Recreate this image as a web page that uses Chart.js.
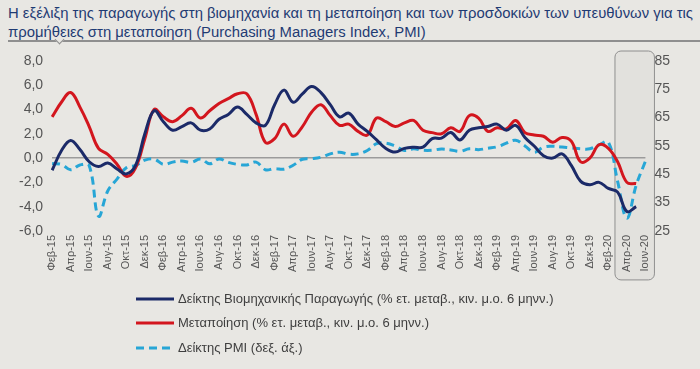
<!DOCTYPE html>
<html>
<head>
<meta charset="utf-8">
<script src="https://cdn.jsdelivr.net/npm/chart.js@4.4.0/dist/chart.umd.min.js"></script>
<style>
  html, body { margin: 0; padding: 0; background: #e8e7e3; }
  #wrap { position: relative; width: 700px; height: 369px; overflow: hidden; }
  #title { position: absolute; left: 8px; top: 4px; font: 14px "Liberation Sans", Arial, sans-serif;
           color: #1f3b73; line-height: 19px; white-space: nowrap; transform-origin: 0 0; }
  #rule { position: absolute; left: 8px; right: 0; top: 40px; height: 2px; background: #8f8f8f; }
  #notch { position: absolute; left: 56px; top: 36px; width: 6px; height: 6px; background: #e8e7e3;
           border-right: 1.5px solid #8f8f8f; border-bottom: 1.5px solid #8f8f8f; transform: rotate(45deg); }
  canvas { position: absolute; left: 0; top: 0; }
</style>
</head>
<body>
<div id="wrap">
  <div id="title">Η εξέλιξη της παραγωγής στη βιομηχανία και τη μεταποίηση και των προσδοκιών των υπευθύνων για τις<br>προμήθειες στη μεταποίηση (Purchasing Managers Index, PMI)</div>
  <div id="rule"></div>
  <div id="notch"></div>
  <canvas id="chart" width="700" height="369"></canvas>
</div>
<script>
// monthly, Φεβ-15 .. Ιουν-20
const months = [
  'Φεβ-15','Μαρ-15','Απρ-15','Μαϊ-15','Ιουν-15','Ιουλ-15','Αυγ-15','Σεπ-15','Οκτ-15','Νοε-15','Δεκ-15',
  'Ιαν-16','Φεβ-16','Μαρ-16','Απρ-16','Μαϊ-16','Ιουν-16','Ιουλ-16','Αυγ-16','Σεπ-16','Οκτ-16','Νοε-16','Δεκ-16',
  'Ιαν-17','Φεβ-17','Μαρ-17','Απρ-17','Μαϊ-17','Ιουν-17','Ιουλ-17','Αυγ-17','Σεπ-17','Οκτ-17','Νοε-17','Δεκ-17',
  'Ιαν-18','Φεβ-18','Μαρ-18','Απρ-18','Μαϊ-18','Ιουν-18','Ιουλ-18','Αυγ-18','Σεπ-18','Οκτ-18','Νοε-18','Δεκ-18',
  'Ιαν-19','Φεβ-19','Μαρ-19','Απρ-19','Μαϊ-19','Ιουν-19','Ιουλ-19','Αυγ-19','Σεπ-19','Οκτ-19','Νοε-19','Δεκ-19',
  'Ιαν-20','Φεβ-20','Μαρ-20','Απρ-20','Μαϊ-20','Ιουν-20'
];

const industry = [
  -1.0, 0.6, 1.45, 0.7, -0.3, -0.7, -0.4, -0.9, -1.3, -0.6,
  2.0, 3.9, 3.0, 2.3, 2.6, 2.9, 2.3, 2.4, 3.2, 3.6,
  4.2, 3.6, 2.9, 2.7, 4.4, 5.6, 4.6, 5.3, 5.9, 5.4,
  4.4, 3.4, 3.7, 2.8, 2.2, 1.5, 0.8, 0.5, 0.8, 0.9,
  0.9, 1.6, 1.65, 2.1, 1.5, 2.3, 2.5, 2.6, 2.8, 2.3,
  2.7, 1.7, 1.0, 0.2, 0.0, 0.35, -0.6, -1.9, -2.2, -2.0,
  -2.5, -2.8, -4.4, -4.0, null
];

const manufacturing = [
  3.4, 4.6, 5.4, 4.2, 2.6, 0.8, 0.3, -0.5, -1.5, -0.8,
  1.6, 4.0, 3.4, 3.0, 3.5, 4.1, 3.3, 3.9, 4.5, 4.9,
  5.3, 5.3, 3.6, 1.3, 1.6, 2.8, 1.8, 2.6, 3.8, 4.4,
  3.5, 2.7, 2.8, 2.2, 1.9, 3.3, 3.0, 2.6, 2.9, 3.1,
  2.3, 2.1, 2.0, 2.5, 2.2, 3.5, 3.3, 2.2, 2.5, 2.4,
  3.1, 2.1, 1.9, 1.8, 1.3, 1.7, 1.4, -0.3, 0.0, 1.1,
  0.8, -0.3, -2.0, -2.1, null
];

const pmi = [
  48.8, 48.5, 46.6, 48.3, 48.0, 30.2, 39.1, 43.3, 47.3, 48.1,
  50.0, 50.4, 48.5, 49.3, 49.7, 49.2, 50.4, 48.7, 50.4, 49.2,
  48.5, 48.3, 49.3, 46.6, 47.0, 46.8, 48.2, 50.3, 50.5, 51.0,
  52.2, 52.8, 52.1, 52.2, 53.4, 55.8, 56.0, 55.0, 53.4, 54.0,
  53.5, 53.5, 53.9, 53.6, 53.1, 54.0, 53.7, 54.2, 54.7, 56.0,
  57.0, 55.0, 52.8, 54.6, 54.9, 54.6, 54.3, 54.0, 54.0, 55.4,
  56.4, 42.5, 29.5, 41.1, 49.6
];

const seriesNames = [
  'Δείκτης Βιομηχανικής Παραγωγής (% ετ. μεταβ., κιν. μ.ο. 6 μηνν.)',
  'Μεταποίηση (% ετ. μεταβ., κιν. μ.ο. 6 μηνν.)',
  'Δείκτης PMI (δεξ. άξ.)'
];

const FONT = '"Liberation Sans", Arial, sans-serif';
Chart.defaults.font.family = FONT;

// fit title line to reference width
const titleEl = document.getElementById('title');
const tw = titleEl.getBoundingClientRect().width;
titleEl.style.transform = 'scaleX(' + (685 / tw) + ')';

// grey rounded box behind the last months
const boxPlugin = {
  id: 'box',
  beforeDraw(chart) {
    const { ctx, chartArea, scales } = chart;
    const x = scales.x;
    const left = (x.getPixelForValue(60) + x.getPixelForValue(61)) / 2 + 2;
    const right = x.getPixelForValue(64) + 9;
    const top = chartArea.top - 10, bottom = chartArea.bottom + 49;
    ctx.save();
    ctx.beginPath();
    ctx.roundRect(left, top, right - left, bottom - top, 6);
    ctx.fillStyle = 'rgba(0,0,0,0.025)';
    ctx.fill();
    ctx.strokeStyle = '#8e8e8e';
    ctx.lineWidth = 1;
    ctx.stroke();
    ctx.restore();
  }
};

// legend rows under the axis
const legendPlugin = {
  id: 'rowsLegend',
  afterDraw(chart) {
    const ctx = chart.ctx;
    const rows = [299, 323, 348];
    ctx.save();
    chart.data.datasets.forEach((ds, i) => {
      const y = rows[i];
      ctx.beginPath();
      ctx.setLineDash(ds.borderDash || []);
      ctx.strokeStyle = ds.borderColor;
      ctx.lineWidth = ds.borderWidth;
      ctx.moveTo(136, y);
      ctx.lineTo(174, y);
      ctx.stroke();
      ctx.setLineDash([]);
      ctx.fillStyle = '#3f3f3f';
      ctx.font = '13px ' + FONT;
      ctx.textBaseline = 'middle';
      ctx.fillText(ds.label, 178, y);
    });
    ctx.restore();
  }
};

new Chart(document.getElementById('chart'), {
  type: 'line',
  data: {
    labels: months,
    datasets: [
      { label: seriesNames[0], data: industry, yAxisID: 'y', borderColor: '#1b2a68', borderWidth: 3 },
      { label: seriesNames[1], data: manufacturing, yAxisID: 'y', borderColor: '#d3161e', borderWidth: 3 },
      { label: seriesNames[2], data: pmi, yAxisID: 'y1', borderColor: '#27a6d6', borderWidth: 3, borderDash: [8, 5] }
    ]
  },
  options: {
    responsive: false,
    animation: false,
    layout: { padding: { left: 10, right: 21, top: 61, bottom: 93 } },
    elements: {
      point: { radius: 0 },
      line: { tension: 0.4, borderCapStyle: 'butt', borderJoinStyle: 'round' }
    },
    plugins: { legend: { display: false }, tooltip: { enabled: false } },
    scales: {
      x: {
        offset: false,
        grid: { display: false, drawTicks: false },
        border: { display: false },
        ticks: {
          autoSkip: false, minRotation: 90, maxRotation: 90, padding: 4,
          color: '#555', font: { size: 11 },
          callback(v, i) { return i % 2 === 0 ? this.getLabelForValue(v) : ''; }
        }
      },
      y: {
        position: 'left', min: -6, max: 8,
        border: { display: false },
        grid: {
          drawTicks: false, lineWidth: 1.5,
          color: c => (c.tick && c.tick.value === 0) ? '#9b9b9b' : 'rgba(0,0,0,0)'
        },
        ticks: {
          stepSize: 2, padding: 9, color: '#555', font: { size: 14 },
          callback: v => v.toFixed(1).replace('.', ',')
        }
      },
      y1: {
        position: 'right', min: 25, max: 85,
        border: { display: false },
        grid: { display: false, drawTicks: false },
        ticks: { stepSize: 5, padding: 9, color: '#555', font: { size: 14 } }
      }
    }
  },
  plugins: [boxPlugin, legendPlugin]
});
</script>
</body>
</html>
